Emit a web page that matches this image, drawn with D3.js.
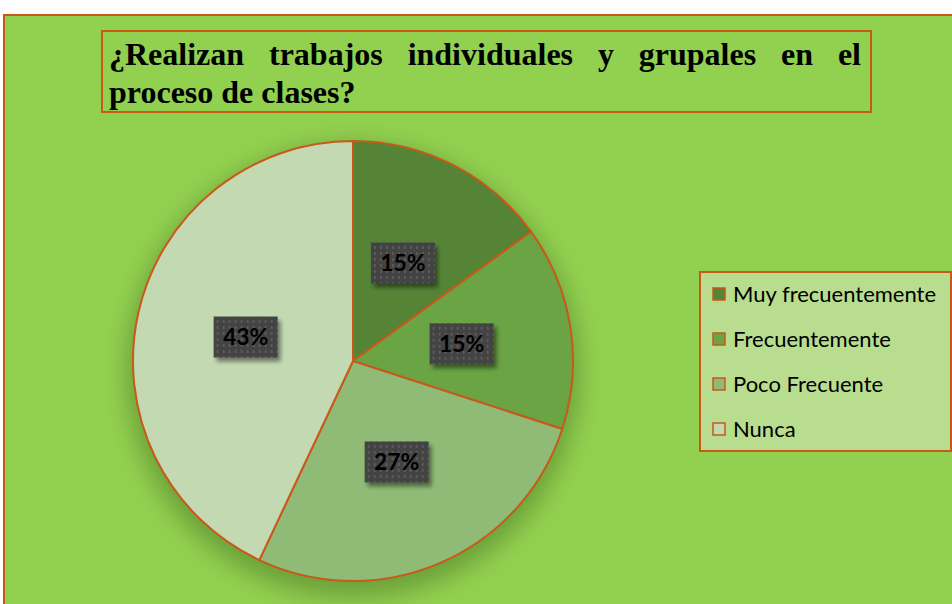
<!DOCTYPE html>
<html lang="es">
<head>
    <meta charset="UTF-8">
    <title>Trabajos individuales y grupales</title>
    <script src="https://cdn.jsdelivr.net/npm/d3@7"></script>
    <style>
        body{ margin:0; background:#ffffff; }
        svg{ display:block; }
    </style>
</head>
<body>
<svg width="952" height="604"></svg>
<script>
    // datos
    var categorias = ["Muy frecuentemente", "Frecuentemente", "Poco Frecuente", "Nunca"];
    var valores = [15, 15, 27, 43];
    var colores = ["#558437", "#6aa444", "#8fbb76", "#c3d9b2"];
    var titulo = ["¿Realizan trabajos individuales y grupales en el", "proceso de clases?"];

    var svg = d3.select("svg"),
        naranja = "#c9581a";

    var defs = svg.append("defs");

    defs.append("filter")
        .attr("id", "sombraPie")
        .attr("x", "-30%").attr("y", "-30%")
        .attr("width", "160%").attr("height", "160%")
        .append("feGaussianBlur")
        .attr("stdDeviation", 12);

    var fs = defs.append("filter")
        .attr("id", "sombraCaja")
        .attr("x", "-30%").attr("y", "-30%")
        .attr("width", "160%").attr("height", "160%");
    fs.append("feGaussianBlur").attr("stdDeviation", 2);

    var pat = defs.append("pattern")
        .attr("id", "puntos")
        .attr("patternUnits", "userSpaceOnUse")
        .attr("width", 6).attr("height", 6);
    pat.append("rect").attr("width", 6).attr("height", 6).attr("fill", "#434343");
    pat.append("rect").attr("x", 1).attr("y", 1).attr("width", 2).attr("height", 3).attr("fill", "#5a5a5a");

    // marco exterior
    svg.append("rect")
        .attr("x", 4).attr("y", 15)
        .attr("width", 980).attr("height", 620)
        .attr("fill", "#92d050")
        .attr("stroke", naranja)
        .attr("stroke-width", 2);

    // titulo
    svg.append("rect")
        .attr("x", 102).attr("y", 31)
        .attr("width", 769).attr("height", 81)
        .attr("fill", "#92d050")
        .attr("stroke", naranja)
        .attr("stroke-width", 2);

    var gTitulo = svg.append("g")
        .attr("font-family", "'Liberation Serif', 'Times New Roman', serif")
        .attr("font-weight", "bold")
        .attr("font-size", 32)
        .attr("fill", "#000");

    var xIni = 109, xFin = 861;
    titulo.forEach(function (linea, i) {
        var y = 65 + i * 38;
        var palabras = linea.split(" ");
        if (i === titulo.length - 1) {
            gTitulo.append("text").attr("x", xIni).attr("y", y).text(linea);
            return;
        }
        var nodos = palabras.map(function (p) {
            return gTitulo.append("text").attr("y", y).text(p);
        });
        var anchos = nodos.map(function (n) { return n.node().getComputedTextLength(); });
        var total = d3.sum(anchos);
        var hueco = (xFin - xIni - total) / (palabras.length - 1);
        var x = xIni;
        nodos.forEach(function (n, k) {
            n.attr("x", x);
            x += anchos[k] + hueco;
        });
    });

    // pastel
    var cx = 353, cy = 361, radio = 220;

    var pie = d3.pie().sort(null).value(function (d) { return d; });
    var arc = d3.arc().innerRadius(0).outerRadius(radio);
    var arcos = pie(valores);

    var gPie = svg.append("g")
        .attr("transform", "translate(" + cx + "," + cy + ")");

    gPie.append("circle")
        .attr("cx", 0).attr("cy", 10)
        .attr("r", radio + 6)
        .attr("fill", "#5f8f33")
        .attr("opacity", 0.75)
        .attr("filter", "url(#sombraPie)");

    gPie.selectAll("path.slice")
        .data(arcos)
        .enter().append("path")
        .attr("class", "slice")
        .attr("d", arc)
        .attr("fill", function (d, i) { return colores[i]; })
        .attr("stroke", naranja)
        .attr("stroke-width", 2);

    var bw = 64, bh = 41;
    var etiquetas = gPie.selectAll("g.etiqueta")
        .data(arcos)
        .enter().append("g")
        .attr("class", "etiqueta")
        .attr("transform", function (d) {
            var c = arc.centroid(d);
            return "translate(" + c[0] + "," + c[1] + ")";
        });

    etiquetas.append("rect")
        .attr("x", -bw / 2 + 3).attr("y", -bh / 2 + 4)
        .attr("width", bw).attr("height", bh)
        .attr("fill", "#000")
        .attr("opacity", 0.45)
        .attr("filter", "url(#sombraCaja)");

    etiquetas.append("rect")
        .attr("x", -bw / 2).attr("y", -bh / 2)
        .attr("width", bw).attr("height", bh)
        .attr("fill", "url(#puntos)");

    etiquetas.append("text")
        .attr("text-anchor", "middle")
        .attr("dy", "0.36em")
        .attr("font-family", "Lato, 'Open Sans', sans-serif")
        .attr("font-weight", "bold")
        .attr("font-size", 23)
        .attr("fill", "#000")
        .text(function (d) { return d.data + "%"; });

    // leyenda
    svg.append("rect")
        .attr("x", 700).attr("y", 272)
        .attr("width", 251).attr("height", 179)
        .attr("fill", "#b8dd8f")
        .attr("stroke", naranja)
        .attr("stroke-width", 2);

    var y = d3.scalePoint()
        .domain(categorias)
        .range([294, 429]);

    var items = svg.selectAll("g.item")
        .data(categorias)
        .enter().append("g")
        .attr("class", "item")
        .attr("transform", function (d) { return "translate(712," + y(d) + ")"; });

    items.append("rect")
        .attr("x", 1).attr("y", -6)
        .attr("width", 12).attr("height", 12)
        .attr("fill", function (d, i) { return colores[i]; })
        .attr("stroke", naranja)
        .attr("stroke-width", 1.5);

    items.append("text")
        .attr("x", 21)
        .attr("dy", "0.36em")
        .attr("font-family", "Lato, 'Open Sans', sans-serif")
        .attr("font-size", 22)
        .attr("fill", "#000")
        .text(function (d) { return d; });
</script>
</body>
</html>
